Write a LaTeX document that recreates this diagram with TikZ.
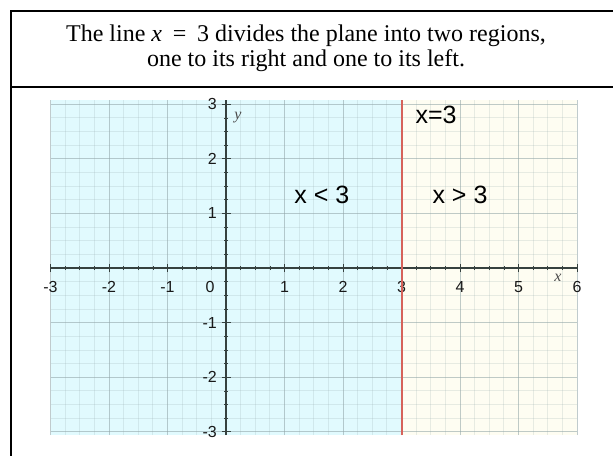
\documentclass[tikz,border=0pt]{standalone}
\usepackage{fontspec}
\setmainfont{Liberation Serif}
\setsansfont{Liberation Sans}
\usetikzlibrary{positioning}
\definecolor{leftfill}{HTML}{E1FAFE}
\definecolor{rightfill}{HTML}{FEFDF2}
\definecolor{gridcol}{HTML}{8FA3A6}
\definecolor{axiscol}{HTML}{36413F}
\definecolor{boundcol}{HTML}{D6625A}
\tikzset{
  frameline/.style  = {line width=2pt, draw=black},
  minorgrid/.style  = {draw=gridcol, opacity=0.2, line width=0.8pt},
  majorgrid/.style  = {draw=gridcol, opacity=0.45, line width=0.9pt},
  plotaxis/.style   = {draw=axiscol, line width=1.1pt},
  boundline/.style  = {draw=boundcol, line width=2pt},
  ticklabel/.style  = {font=\sffamily\fontsize{16}{16}\selectfont, text=black!90, inner sep=0pt},
  regionlabel/.style = {font=\sffamily\fontsize{25}{25}\selectfont, inner sep=0pt},
  axisname/.style   = {font=\itshape\fontsize{16}{16}\selectfont, text=black!70, inner sep=0pt},
  titletext/.style  = {font=\fontsize{24}{27}\selectfont, inner sep=0pt, anchor=base},
}

\begin{document}
\begin{tikzpicture}[x=1pt, y=-1pt]
    \useasboundingbox (0,0) rectangle (613,456);
    % heading cell
    \node[titletext] (head1) at (306,41) {The line \textit{x}\hspace{0.45em}=\hspace{0.45em}3 divides the plane into two regions,};
    \node[titletext] (head2) at (306,66) {one to its right and one to its left.};
    \draw[frameline] (613,11) -- (11,11) -- (11,456);
    \draw[frameline, line width=1.2pt] (11,87) -- (613,87);
    % the plane
    \begin{scope}[shift={(226,268)}, x=58.5pt, y=54.6pt]
        \fill[leftfill]  (-3,-3.06) rectangle (3,3.08);
        \fill[rightfill] (3,-3.06) rectangle (6,3.08);
        \foreach \i in {-12,...,24}
            \draw[minorgrid] (\i/4,-3.06) -- (\i/4,3.08);
        \foreach \j in {-12,...,12}
            \draw[minorgrid] (-3,\j/4) -- (6,\j/4);
        \foreach \i in {-3,...,6}
            \draw[majorgrid] (\i,-3.06) -- (\i,3.08);
        \foreach \j in {-3,...,3}
            \draw[majorgrid] (-3,\j) -- (6,\j);
        % axes and ticks
        \draw[plotaxis] (-3,0) -- (6,0);
        \draw[plotaxis] (0,-3.06) -- (0,3.08);
        \foreach \i in {-12,...,24}
            \draw[plotaxis, line width=0.7pt] (\i/4,0) ++(0,-2pt) -- ++(0,4pt);
        \foreach \j in {-12,...,12}
            \draw[plotaxis, line width=0.7pt] (0,\j/4) ++(-2pt,0) -- ++(4pt,0);
        \foreach \i in {-3,...,6}
            \draw[plotaxis, line width=0.8pt] (\i,0) ++(0,-4pt) -- ++(0,8pt);
        \foreach \j in {-3,...,3}
            \draw[plotaxis, line width=0.8pt] (0,\j) ++(-4.5pt,0) -- ++(9pt,0);
        % tick labels
        \foreach \i in {-3,-2,-1,1,2,3,4,5,6}
            \node[ticklabel] (xl\i) at ([yshift=-19pt]\i,0) {\i};
        \node[ticklabel] (xl0) at ([xshift=-16pt, yshift=-19pt]0,0) {0};
        \foreach \j in {-3,-2,-1,1,2,3}
            \node[ticklabel, anchor=east] (yl\j) at ([xshift=-9pt]0,\j) {\j};
        \node[axisname] (yname) at (0.205,2.75) {y};
        \node[axisname] (xname) at (5.675,-0.18) {x};
        % the boundary and the regions
        \draw[boundline] (3,-3.06) -- (3,3.08);
        \node[regionlabel] (bound) at (3.59,2.80) {x=3};
        \node[regionlabel] (lefthalf) at (1.64,1.34) {x < 3};
        \node[regionlabel] (righthalf) at (4.0,1.34) {x > 3};
    \end{scope}
\end{tikzpicture}
\end{document}
